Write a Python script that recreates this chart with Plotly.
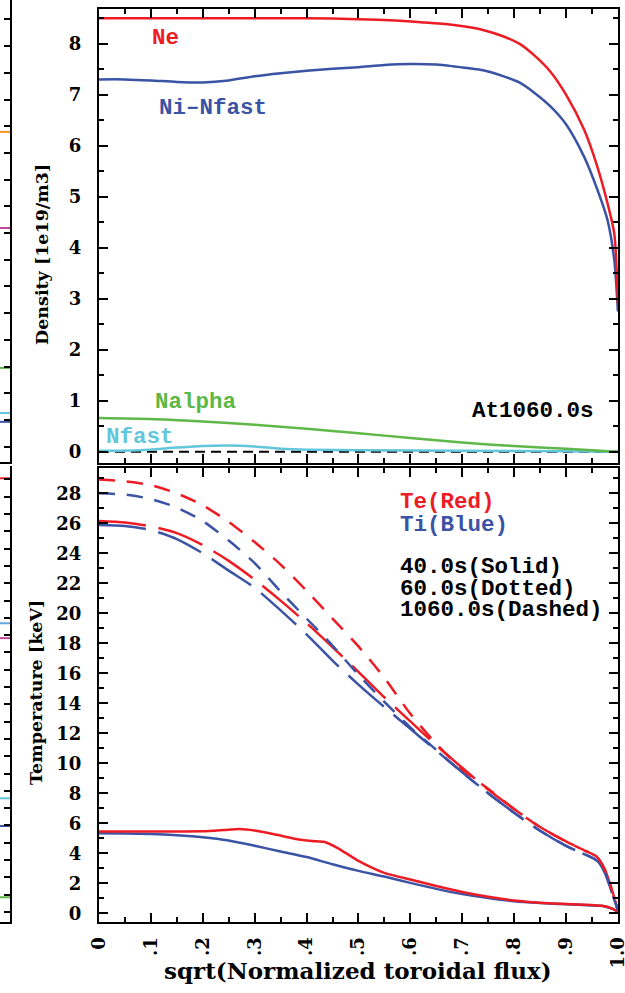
import plotly.graph_objects as go

# ---------------- data ----------------
# Top panel: densities at 1060.0 s (1e19/m3) vs sqrt(normalized toroidal flux)
ne_x = [0, 0.1, 0.2, 0.3, 0.4, 0.5, 0.56, 0.62, 0.68, 0.74, 0.78, 0.81, 0.84, 0.87, 0.9, 0.935, 0.96, 0.98, 0.993, 1.0]
ne_y = [8.5, 8.5, 8.5, 8.5, 8.5, 8.48, 8.46, 8.42, 8.37, 8.27, 8.14, 8.0, 7.76, 7.45, 7.0, 6.31, 5.6, 4.87, 4.28, 2.9]

ni_x = [0, 0.05, 0.1, 0.15, 0.2, 0.25, 0.3, 0.35, 0.4, 0.45, 0.5, 0.55, 0.6, 0.65, 0.68, 0.74, 0.78, 0.81, 0.84, 0.87, 0.9, 0.935, 0.96, 0.98, 0.993, 1.0]
ni_y = [7.3, 7.3, 7.28, 7.25, 7.24, 7.28, 7.36, 7.42, 7.47, 7.51, 7.54, 7.58, 7.6, 7.59, 7.56, 7.48, 7.36, 7.24, 7.03, 6.77, 6.42, 5.78, 5.15, 4.54, 3.76, 2.75]

nalpha_x = [0, 0.1, 0.2, 0.3, 0.4, 0.5, 0.6, 0.7, 0.8, 0.9, 1.0]
nalpha_y = [0.66, 0.64, 0.59, 0.53, 0.45, 0.36, 0.27, 0.18, 0.11, 0.06, 0.0]

nfast_x = [0, 0.08, 0.15, 0.2, 0.25, 0.3, 0.35, 0.4, 0.5, 0.7, 0.9, 1.0]
nfast_y = [0.02, 0.03, 0.08, 0.11, 0.12, 0.1, 0.06, 0.04, 0.03, 0.02, 0.01, 0.0]

zero_x = [0, 1]
zero_y = [0, 0]

# Bottom panel: temperatures (keV)
t_x = [0, 0.05, 0.1, 0.15, 0.2, 0.25, 0.3, 0.35, 0.4, 0.45, 0.5, 0.55, 0.6, 0.65, 0.7, 0.75, 0.8, 0.85, 0.9, 0.935, 0.96, 0.975, 0.99, 1.0]
te_1060 = [28.93, 28.8, 28.55, 28.0, 27.2, 26.1, 24.75, 23.25, 21.5, 19.65, 17.8, 15.7, 13.3, 11.3, 9.6, 8.3, 6.95, 5.75, 4.78, 4.2, 3.75, 2.9, 1.4, 0.2]
ti_1060 = [28.0, 27.92, 27.62, 27.05, 26.15, 24.85, 23.35, 21.45, 19.65, 17.85, 15.9, 14.1, 12.4, 10.9, 9.4, 8.0, 6.7, 5.5, 4.5, 3.95, 3.5, 2.7, 1.2, 0.2]
te_60 = [26.15, 26.05, 25.8, 25.35, 24.55, 23.5, 22.25, 20.85, 19.35, 17.75, 16.1, 14.4, 12.8, 11.2, 9.7, 8.25, 6.95, 5.75, 4.8, 4.2, 3.75, 2.9, 1.4, 0.2]
ti_60 = [25.89, 25.82, 25.55, 24.95, 24.0, 22.85, 21.7, 20.2, 18.6, 16.85, 15.25, 13.75, 12.3, 10.85, 9.4, 8.0, 6.7, 5.5, 4.5, 3.95, 3.5, 2.7, 1.2, 0.2]

te40_x = [0, 0.05, 0.1, 0.15, 0.2, 0.24, 0.27, 0.3, 0.34, 0.38, 0.41, 0.435, 0.46, 0.5, 0.55, 0.6, 0.65, 0.7, 0.75, 0.8, 0.85, 0.9, 0.95, 0.97, 0.99, 1.0]
te_40 = [5.45, 5.45, 5.45, 5.46, 5.47, 5.55, 5.62, 5.52, 5.25, 4.95, 4.82, 4.75, 4.35, 3.5, 2.7, 2.25, 1.82, 1.42, 1.1, 0.85, 0.7, 0.62, 0.55, 0.5, 0.3, 0.1]
ti40_x = [0, 0.05, 0.1, 0.15, 0.2, 0.25, 0.3, 0.35, 0.4, 0.45, 0.5, 0.55, 0.6, 0.65, 0.7, 0.75, 0.8, 0.85, 0.9, 0.95, 0.97, 0.99, 1.0]
ti_40 = [5.33, 5.32, 5.28, 5.2, 5.07, 4.85, 4.5, 4.12, 3.75, 3.27, 2.83, 2.45, 2.03, 1.63, 1.28, 1.02, 0.8, 0.68, 0.6, 0.52, 0.48, 0.3, 0.1]

# Tick labels
x_tickvals = [0, 0.1, 0.2, 0.3, 0.4, 0.5, 0.6, 0.7, 0.8, 0.9, 1.0]
x_ticktext = ["0", ".1", ".2", ".3", ".4", ".5", ".6", ".7", ".8", ".9", "1.0"]
dens_ticks = [0, 1, 2, 3, 4, 5, 6, 7, 8]
temp_ticks = [0, 2, 4, 6, 8, 10, 12, 14, 16, 18, 20, 22, 24, 26, 28]

# Neighbouring (cut-off) panel: line ends visible at the left edge
strip_top_levels = [11.79, 8.19, 2.95, 1.26, 0.93]
strip_top_colors = ["#F7941D", "#C0479A", "#5DB847", "#62C6DD", "#3A53A4"]
strip_bot_levels = [25.07, 16.69, 15.83, 6.57, 4.97, 0.85]
strip_bot_colors = ["#ED1C24", "#62A8DD", "#C0479A", "#62C6DD", "#3A53A4", "#5DB847"]

# ---------------- styles ----------------
RED = "#ED1C24"
BLUE = "#3A53A4"
GREEN = "#5DB847"
CYAN = "#62C6DD"
W, H = 625, 993
LW = 2.5
SHORT = "16px,12px"
LONG = "47px,13px"

def px_x(p):
    return p / W

def px_y(p):
    return 1 - p / H

fig = go.Figure()

def line(x, y, color, xa, ya, dash="solid", width=LW):
    fig.add_trace(go.Scatter(x=x, y=y, mode="lines", xaxis=xa, yaxis=ya,
                             line=dict(color=color, width=width, dash=dash, shape="spline", smoothing=0.7),
                             showlegend=False, hoverinfo="skip"))

# top panel
line(zero_x, zero_y, "black", "x", "y", dash="10px,6px", width=2)
line(nfast_x, nfast_y, CYAN, "x", "y")
line(nalpha_x, nalpha_y, GREEN, "x", "y")
line(ni_x, ni_y, BLUE, "x", "y")
line(ne_x, ne_y, RED, "x", "y")

# bottom panel
line(ti40_x, ti_40, BLUE, "x2", "y2")
line(te40_x, te_40, RED, "x2", "y2")
line(t_x, ti_60, BLUE, "x2", "y2", dash=LONG)
line(t_x, te_60, RED, "x2", "y2", dash=LONG)
line(t_x, ti_1060, BLUE, "x2", "y2", dash=SHORT)
line(t_x, te_1060, RED, "x2", "y2", dash=SHORT)

# left strips (cut-off neighbouring panel)
for lev, col in zip(strip_top_levels, strip_top_colors):
    fig.add_trace(go.Scatter(x=[0, 1], y=[lev, lev], mode="lines", xaxis="x3", yaxis="y3",
                             line=dict(color=col, width=2), showlegend=False, hoverinfo="skip"))
for lev, col in zip(strip_bot_levels, strip_bot_colors):
    fig.add_trace(go.Scatter(x=[0, 1], y=[lev, lev], mode="lines", xaxis="x4", yaxis="y4",
                             line=dict(color=col, width=2), showlegend=False, hoverinfo="skip"))

TICKFONT = dict(family="DejaVu Serif", size=18, color="black", weight="bold")
common_x = dict(range=[0, 1.0002], showline=True, linecolor="black", linewidth=2, mirror="allticks",
                ticks="inside", ticklen=9, tickwidth=2, tickcolor="black", automargin=False,
                tickvals=x_tickvals, ticktext=x_ticktext, showgrid=False, zeroline=False,
                ticklabeloverflow="allow",
                minor=dict(dtick=0.05, tick0=0, ticks="inside", ticklen=5, tickwidth=1.5, tickcolor="black", showgrid=False),
                domain=[px_x(99), px_x(618)], tickfont=TICKFONT)
common_y = dict(showline=True, linecolor="black", linewidth=2, mirror="allticks", automargin=False,
                ticks="inside", ticklen=9, tickwidth=2, tickcolor="black",
                showgrid=False, zeroline=False, tickfont=TICKFONT, ticklabelstandoff=12)
strip_x = dict(range=[0, 1], showline=True, linecolor="black", linewidth=2, automargin=False,
               showticklabels=False, ticks="", showgrid=False, zeroline=False, domain=[0, px_x(10)])
strip_y = dict(side="right", showline=True, linecolor="black", linewidth=2, automargin=False,
               ticks="inside", ticklen=6, tickwidth=2, tickcolor="black",
               dtick=1, tick0=0, showticklabels=False, showgrid=False, zeroline=False)

fig.update_layout(
    template="none",
    width=W, height=H, autosize=False,
    margin=dict(l=0, r=0, t=0, b=0, pad=0),
    paper_bgcolor="white", plot_bgcolor="white",
    showlegend=False,
    xaxis=dict(common_x, anchor="y", showticklabels=False),
    yaxis=dict(common_y, anchor="x", range=[-0.212, 8.68], tickvals=dens_ticks,
               minor=dict(dtick=0.5, tick0=0, ticks="inside", ticklen=5, tickwidth=1.5, tickcolor="black", showgrid=False),
               domain=[px_y(462.5), px_y(9)]),
    xaxis2=dict(common_x, anchor="y2", showticklabels=True, tickangle=-90, ticklabelstandoff=6),
    yaxis2=dict(common_y, anchor="x2", range=[-0.58, 29.69], tickvals=temp_ticks,
                minor=dict(dtick=1, tick0=0, ticks="inside", ticklen=5, tickwidth=1.5, tickcolor="black", showgrid=False),
                domain=[px_y(922), px_y(468)]),
    xaxis3=dict(strip_x, anchor="y3"),
    yaxis3=dict(strip_y, anchor="x3", domain=[px_y(462), 1], range=[-0.575, 16.73]),
    xaxis4=dict(strip_x, anchor="y4"),
    yaxis4=dict(strip_y, anchor="x4", domain=[px_y(922), px_y(466)], range=[-0.58, 25.78]),
)

MONO = "Liberation Mono"
ann = []
def label(text, x, y, color, xref, yref, xanchor="left"):
    ann.append(dict(text=text, x=x, y=y, xref=xref, yref=yref, xanchor=xanchor, yanchor="middle",
                    showarrow=False, font=dict(family=MONO, size=22.5, color=color, weight="bold")))

label("Ne", 0.098, 8.11, RED, "x", "y")
label("Ni–Nfast", 0.112, 6.74, BLUE, "x", "y")
label("Nalpha", 0.104, 0.975, GREEN, "x", "y")
label("Nfast", 0.0097, 0.29, CYAN, "x", "y")
label("At1060.0s", 0.958, 0.80, "black", "x", "y", xanchor="right")

label("Te(Red)", 0.577, 27.42, RED, "x2", "y2")
label("Ti(Blue)", 0.577, 25.89, BLUE, "x2", "y2")
label("40.0s(Solid)", 0.577, 23.09, "black", "x2", "y2")
label("60.0s(Dotted)", 0.577, 21.62, "black", "x2", "y2")
label("1060.0s(Dashed)", 0.577, 20.22, "black", "x2", "y2")

TITLEFONT = dict(family="DejaVu Serif", size=17.5, color="black", weight="bold")
ann.append(dict(text="Density [1e19/m3]", x=px_x(42), y=px_y(255), xref="paper", yref="paper",
                textangle=-90, showarrow=False, font=TITLEFONT, xanchor="center", yanchor="middle"))
ann.append(dict(text="Temperature [keV]", x=px_x(36), y=px_y(693), xref="paper", yref="paper",
                textangle=-90, showarrow=False, font=TITLEFONT, xanchor="center", yanchor="middle"))
ann.append(dict(text="sqrt(Normalized toroidal flux)", x=px_x(358), y=px_y(970), xref="paper", yref="paper",
                showarrow=False, font=dict(TITLEFONT, size=23), xanchor="center", yanchor="middle"))
fig.update_layout(annotations=ann)

fig.write_html("out.html", config={"displayModeBar": False},
               post_script="document.body.style.margin='0px';")
